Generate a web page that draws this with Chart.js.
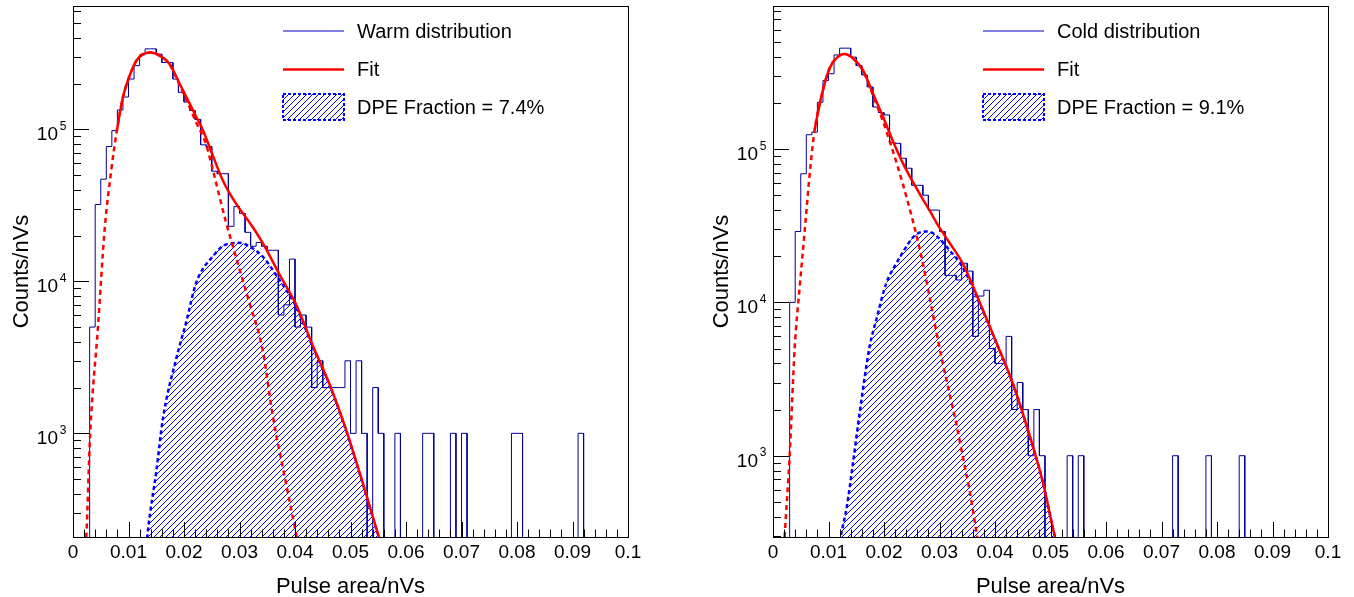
<!DOCTYPE html>
<html>
<head>
<meta charset="utf-8">
<script src="https://cdn.jsdelivr.net/npm/chart.js@4.4.1/dist/chart.umd.min.js"></script>
<style>
body { margin: 0; background: #fff; }
canvas { position: absolute; top: 0; }
#warmChart { left: 0; }
#coldChart { left: 700px; }
</style>
</head>
<body>
<canvas id="warmChart" width="654" height="597"></canvas>
<canvas id="coldChart" width="654" height="597"></canvas>
<script>
var FONT = "'Liberation Sans', Arial, Helvetica, sans-serif";

var binWidth = 0.001;
var xTickLabels = ['0', '0.01', '0.02', '0.03', '0.04', '0.05', '0.06', '0.07', '0.08', '0.09', '0.1'];
var yTickValues = [1e3, 1e4, 1e5];
var yTickExponents = ['3', '4', '5'];

// counts/nVs per 0.001 nVs bin, 100 bins from 0 to 0.1
var warmCounts = [
    0, 0, 0, 5000, 32000, 47000, 77000, 98000, 134000, 163000,
    214000, 262000, 309000, 338000, 338000, 312000, 275000, 275000, 214000, 175000,
    151000, 133000, 116000, 79000, 77000, 53000, 51000, 51000, 23000, 31000,
    28000, 21000, 17000, 18000, 17000, 16000, 16000, 6000, 7000, 14000,
    5000, 6000, 5000, 2000, 3000, 2000, 2000, 2000, 2000, 3000,
    1000, 3000, 1000, 0, 2000, 1000, 0, 0, 1000, 0,
    0, 0, 0, 1000, 1000, 0, 0, 0, 1000, 0,
    1000, 0, 0, 0, 0, 0, 0, 0, 0, 1000,
    1000, 0, 0, 0, 0, 0, 0, 0, 0, 0,
    0, 1000, 0, 0, 0, 0, 0, 0, 0, 0
];
var coldCounts = [
    0, 0, 0, 10000, 29000, 69000, 124000, 129000, 202000, 280000,
    310000, 411000, 455000, 455000, 398000, 350000, 304000, 254000, 188000, 173000,
    167000, 110000, 109000, 87000, 75000, 58000, 58000, 50000, 40000, 40000,
    29000, 15000, 15000, 14000, 18000, 16000, 6000, 11000, 12000, 5000,
    4000, 4000, 6000, 2000, 3000, 2000, 1000, 2000, 1000, 0,
    0, 0, 0, 1000, 0, 1000, 0, 0, 0, 0,
    0, 0, 0, 0, 0, 0, 0, 0, 0, 0,
    0, 0, 1000, 0, 0, 0, 0, 0, 1000, 0,
    0, 0, 0, 0, 1000, 0, 0, 0, 0, 0,
    0, 0, 0, 0, 0, 0, 0, 0, 0, 0
];

// fit curves
var warmFitX = [0.0079, 0.0090, 0.0102, 0.0114, 0.0126, 0.0140, 0.0156, 0.0174, 0.0192, 0.0210, 0.0222, 0.0234, 0.0252, 0.0270, 0.0282, 0.0300, 0.0320, 0.0342, 0.0372, 0.0403, 0.0432, 0.0463, 0.0493, 0.0523, 0.0550, 0.0565];
var warmFitY = [98000, 163000, 225000, 282000, 312000, 320000, 305000, 269000, 200000, 148000, 121000, 99000, 67000, 46000, 38000, 30000, 23800, 17800, 11100, 6900, 3780, 2070, 1030, 460, 216, 150];
var warmSpeX = [0.0020, 0.0024, 0.0031, 0.0045, 0.0057, 0.0069, 0.0079, 0.0090, 0.0102, 0.0114, 0.0126, 0.0140, 0.0156, 0.0174, 0.0192, 0.0210, 0.0222, 0.0240, 0.0252, 0.0264, 0.0276, 0.0288, 0.0300, 0.0318, 0.0342, 0.0360, 0.0380, 0.0403, 0.0415];
var warmSpeY = [120, 208, 1000, 5000, 21900, 54000, 98000, 163000, 225000, 282000, 312000, 320000, 305000, 268000, 196000, 140000, 111000, 79000, 54000, 36000, 24200, 17000, 12000, 7200, 3500, 1300, 550, 208, 120];
var warmDpeX = [0.0128, 0.0135, 0.0150, 0.0162, 0.0186, 0.0204, 0.0222, 0.0252, 0.0276, 0.0300, 0.0320, 0.0342, 0.0366, 0.0403, 0.0432, 0.0463, 0.0493, 0.0523, 0.0550, 0.0565];
var warmDpeY = [120, 230, 560, 1250, 3100, 5400, 9800, 14600, 17500, 17900, 16800, 14500, 11000, 6700, 3700, 2050, 1020, 455, 214, 150];

var coldFitX = [0.0075, 0.0087, 0.0102, 0.0117, 0.0129, 0.0144, 0.0162, 0.0180, 0.0198, 0.0216, 0.0234, 0.0252, 0.0270, 0.0282, 0.0300, 0.0318, 0.0342, 0.0372, 0.0403, 0.0432, 0.0463, 0.0485, 0.0508, 0.0520];
var coldFitY = [133000, 219000, 336000, 400000, 417000, 391000, 327000, 231000, 163000, 113000, 81000, 61000, 47000, 39800, 30700, 24500, 17900, 10100, 5410, 2970, 1330, 700, 295, 200];
var coldSpeX = [0.0017, 0.0021, 0.0030, 0.0039, 0.0048, 0.0057, 0.0066, 0.0075, 0.0087, 0.0102, 0.0117, 0.0129, 0.0144, 0.0162, 0.0180, 0.0198, 0.0216, 0.0234, 0.0252, 0.0270, 0.0282, 0.0294, 0.0306, 0.0318, 0.0330, 0.0342, 0.0354, 0.0366, 0.0375];
var coldSpeY = [150, 295, 1000, 5000, 12500, 29000, 68000, 133000, 219000, 336000, 400000, 417000, 390000, 325000, 225000, 152000, 97000, 59000, 34000, 18000, 10900, 6500, 4000, 2550, 1630, 985, 597, 327, 200];
var coldDpeX = [0.0115, 0.0122, 0.0133, 0.0144, 0.0156, 0.0174, 0.0186, 0.0204, 0.0222, 0.0240, 0.0252, 0.0264, 0.0276, 0.0288, 0.0300, 0.0318, 0.0342, 0.0372, 0.0403, 0.0432, 0.0463, 0.0485, 0.0508, 0.0520];
var coldDpeY = [200, 295, 465, 890, 1890, 5130, 7680, 13300, 17900, 23000, 26500, 28500, 29000, 28300, 26000, 21900, 16900, 9900, 5400, 2970, 1330, 700, 295, 200];

var warmLegend = ['Warm distribution', 'Fit', 'DPE Fraction = 7.4%'];
var coldLegend = ['Cold distribution', 'Fit', 'DPE Fraction = 9.1%'];

function histPoints(counts) {
    var pts = [];
    for (var i = 0; i < counts.length; i++) {
        var v = counts[i] > 0 ? counts[i] : 1;
        pts.push({x: i * binWidth, y: v});
        pts.push({x: (i + 1) * binWidth, y: v});
    }
    return pts;
}

function curvePoints(xs, ys) {
    var pts = [];
    for (var i = 0; i < xs.length; i++) {
        pts.push({x: xs[i], y: ys[i]});
    }
    return pts;
}

// diagonal "///" lines inside whatever clip is active
function hatchLines(ctx, left, top, right, bottom, color) {
    var h = bottom - top;
    ctx.strokeStyle = color;
    ctx.lineWidth = 1;
    ctx.setLineDash([]);
    ctx.beginPath();
    for (var k = left - h; k < right; k += 6) {
        ctx.moveTo(k, bottom);
        ctx.lineTo(k + h, top);
    }
    ctx.stroke();
}

var rootStyle = {
    id: 'rootStyle',
    beforeDatasetsDraw: function (chart, args, opts) {
        var ctx = chart.ctx;
        var a = chart.chartArea;
        var line = chart.getDatasetMeta(2).dataset;
        line.updateControlPoints(a, 'x');
        var pts = line.points;
        ctx.save();
        ctx.beginPath();
        ctx.rect(a.left, a.top, a.right - a.left, a.bottom - a.top);
        ctx.clip();
        ctx.beginPath();
        line.path(ctx);
        ctx.lineTo(pts[pts.length - 1].x, a.bottom);
        ctx.lineTo(pts[0].x, a.bottom);
        ctx.closePath();
        ctx.clip();
        hatchLines(ctx, a.left, a.top, a.right, a.bottom, opts.hatch);
        ctx.restore();
    },
    afterDatasetsDraw: function (chart, args, opts) {
        var ctx = chart.ctx;
        var a = chart.chartArea;
        var xs = chart.scales.x;
        var ys = chart.scales.y;
        ctx.save();
        ctx.strokeStyle = '#000';
        ctx.lineWidth = 1;
        ctx.setLineDash([]);
        ctx.beginPath();
        for (var i = 0; i <= 50; i++) {
            var px = Math.round(xs.getPixelForValue(i * 0.002)) + 0.5;
            ctx.moveTo(px, a.bottom);
            ctx.lineTo(px, a.bottom - (i % 5 === 0 ? 15 : 7.5));
        }
        for (var e = 2; e <= 6; e++) {
            for (var m = 1; m <= 9; m++) {
                var v = m * Math.pow(10, e);
                if (v < ys.min || v > ys.max) continue;
                var py = Math.round(ys.getPixelForValue(v)) + 0.5;
                ctx.moveTo(a.left, py);
                ctx.lineTo(a.left + (m === 1 ? 16 : 8), py);
            }
        }
        ctx.stroke();
        ctx.strokeRect(Math.round(a.left) + 0.5, Math.round(a.top) + 0.5,
            Math.round(a.right - a.left), Math.round(a.bottom - a.top));

        ctx.fillStyle = '#000';
        ctx.textAlign = 'right';
        ctx.textBaseline = 'alphabetic';
        for (var k = 0; k < yTickValues.length; k++) {
            var ty = ys.getPixelForValue(yTickValues[k]);
            ctx.font = '19px ' + FONT;
            ctx.fillText('10', a.left - 15, ty + 11);
            ctx.font = '12px ' + FONT;
            ctx.fillText(yTickExponents[k], a.left - 6.5, ty + 0.5);
        }

        var labels = opts.labels;
        var ds = chart.data.datasets;
        var x0 = a.left + 210, x1 = a.left + 271, tx = a.left + 284;
        ctx.font = '20px ' + FONT;
        ctx.textAlign = 'left';
        ctx.textBaseline = 'middle';

        ctx.strokeStyle = '#0000cc';
        ctx.lineWidth = 1;
        ctx.beginPath();
        ctx.moveTo(x0, a.top + 25);
        ctx.lineTo(x1, a.top + 25);
        ctx.stroke();
        ctx.fillText(labels[0], tx, a.top + 26);

        ctx.strokeStyle = ds[0].borderColor;
        ctx.lineWidth = ds[0].borderWidth;
        ctx.beginPath();
        ctx.moveTo(x0, a.top + 63.5);
        ctx.lineTo(x1, a.top + 63.5);
        ctx.stroke();
        ctx.fillText(labels[1], tx, a.top + 64);

        var by = a.top + 88;
        ctx.save();
        ctx.beginPath();
        ctx.rect(x0, by, x1 - x0, 26);
        ctx.clip();
        hatchLines(ctx, x0, by, x1, by + 26, opts.hatch);
        ctx.restore();
        ctx.strokeStyle = ds[2].borderColor;
        ctx.lineWidth = 2;
        ctx.setLineDash([3, 2]);
        ctx.strokeRect(x0, by, x1 - x0, 26);
        ctx.setLineDash([]);
        ctx.fillStyle = '#000';
        ctx.fillText(labels[2], tx, a.top + 102);
        ctx.restore();
    }
};

function drawPanel(canvasId, counts, fitX, fitY, speX, speY, dpeX, dpeY, legend, yMin, yMax) {
    var ctx = document.getElementById(canvasId).getContext('2d');
    var chart = new Chart(ctx, {
        type: 'line',
        data: {
            datasets: [{
                label: legend[1],
                data: curvePoints(fitX, fitY),
                borderColor: '#ff0000',
                borderWidth: 2.5,
                pointRadius: 0,
                fill: false,
                cubicInterpolationMode: 'monotone',
                order: 0
            }, {
                label: 'SPE',
                data: curvePoints(speX, speY),
                borderColor: '#ff0000',
                borderWidth: 2.5,
                borderDash: [5, 4],
                pointRadius: 0,
                fill: false,
                cubicInterpolationMode: 'monotone',
                order: 1
            }, {
                label: legend[2],
                data: curvePoints(dpeX, dpeY),
                borderColor: '#0000ff',
                borderWidth: 2.5,
                borderDash: [4, 3],
                pointRadius: 0,
                fill: false,
                cubicInterpolationMode: 'monotone',
                order: 2
            }, {
                label: legend[0],
                data: histPoints(counts),
                borderColor: '#000099',
                borderWidth: 1,
                pointRadius: 0,
                fill: false,
                tension: 0,
                order: 3
            }]
        },
        options: {
            responsive: false,
            animation: false,
            devicePixelRatio: 1,
            layout: {
                padding: {top: 6, right: 26, left: 0, bottom: 0}
            },
            plugins: {
                legend: {display: false},
                tooltip: {enabled: false},
                rootStyle: {labels: legend, hatch: '#0000ff'}
            },
            scales: {
                x: {
                    type: 'linear',
                    min: 0,
                    max: 0.1,
                    afterFit: function (scale) { scale.height = 60; },
                    grid: {display: false, drawTicks: false},
                    border: {display: false},
                    ticks: {
                        stepSize: 0.01,
                        autoSkip: false,
                        maxRotation: 0,
                        padding: 4,
                        color: '#000',
                        font: {family: FONT, size: 19},
                        callback: function (value, index) { return xTickLabels[index]; }
                    },
                    title: {
                        display: true,
                        text: 'Pulse area/nVs',
                        color: '#000',
                        font: {family: FONT, size: 22, lineHeight: 1},
                        padding: {top: 0, bottom: -1}
                    }
                },
                y: {
                    type: 'logarithmic',
                    min: yMin,
                    max: yMax,
                    afterFit: function (scale) { scale.width = 73; },
                    grid: {display: false, drawTicks: false},
                    border: {display: false},
                    ticks: {display: false},
                    title: {
                        display: true,
                        text: 'Counts/nVs',
                        color: '#000',
                        font: {family: FONT, size: 22, lineHeight: 1},
                        padding: {top: 11, bottom: 0}
                    }
                }
            }
        },
        plugins: [rootStyle]
    });
    return chart;
}

drawPanel('warmChart', warmCounts, warmFitX, warmFitY, warmSpeX, warmSpeY, warmDpeX, warmDpeY, warmLegend, 208, 647000);
drawPanel('coldChart', coldCounts, coldFitX, coldFitY, coldSpeX, coldSpeY, coldDpeX, coldDpeY, coldLegend, 295, 857000);
</script>
</body>
</html>
